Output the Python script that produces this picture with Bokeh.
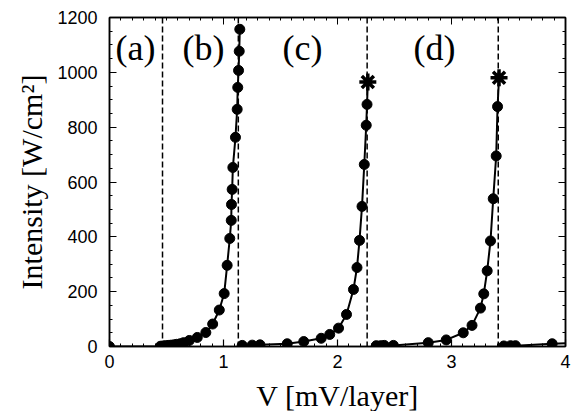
from bokeh.plotting import figure
from bokeh.models import LinearAxis, SingleIntervalTicker, Range1d, Span, Label
from bokeh.embed import file_html
from bokeh.resources import INLINE

# --- data ---
V1 = [0.0, 0.447, 0.47, 0.49, 0.515, 0.54, 0.565, 0.59, 0.62, 0.65, 0.70, 0.77, 0.845, 0.905, 0.963,
      1.006, 1.032, 1.055, 1.068, 1.070, 1.076, 1.082, 1.105, 1.12, 1.125, 1.132, 1.138, 1.143]
I1 = [0, 1, 2, 3, 4, 5, 6, 8, 10, 14, 22, 33, 51, 82, 133,
      193, 296, 394, 460, 518, 573, 653, 763, 865, 945, 1007, 1077, 1157]

V2 = [1.164, 1.252, 1.32, 1.559, 1.704, 1.857, 1.932, 2.009, 2.079, 2.14, 2.171, 2.193, 2.215, 2.235,
      2.252, 2.259, 2.266]
I2 = [4, 5, 6, 10, 18, 30, 44, 67, 117, 208, 288, 387, 511, 664, 807, 883, 965]

V3 = [2.34, 2.38, 2.41, 2.49, 2.796, 2.954, 3.103, 3.18, 3.254, 3.283, 3.313, 3.342, 3.366, 3.392,
      3.404, 3.417]
I3 = [3, 3, 4, 4, 14, 24, 50, 77, 140, 192, 276, 385, 539, 695, 875, 980]

V4 = [3.459, 3.518, 3.561, 3.883, 4.1]
I4 = [2, 3, 3, 10, 13]

V_star = [2.266, 3.417]
I_star = [965, 980]

V_div = [0.465, 1.13, 2.26, 3.41]

panel_labels = ["(a)", "(b)", "(c)", "(d)"]
panel_x = [0.053, 0.64, 1.518, 2.667]
panel_y = 1088

x_label = "V [mV/layer]"
y_label = "Intensity [W/cm²]"

# --- figure ---
p = figure(frame_width=456, frame_height=329, output_backend="svg", toolbar_location=None,
           x_range=Range1d(0, 4), y_range=Range1d(0, 1200),
           min_border_left=109, min_border_right=6, min_border_top=17, min_border_bottom=65,
           background_fill_color="white", border_fill_color="white")
p.grid.visible = False
p.outline_line_color = "black"
p.outline_line_width = 1.5

xt = SingleIntervalTicker(interval=1, num_minor_ticks=10)
yt = SingleIntervalTicker(interval=200, num_minor_ticks=4)
p.xaxis.ticker = xt
p.yaxis.ticker = yt

for ax in (p.xaxis[0], p.yaxis[0]):
    ax.axis_line_width = 1.5
    ax.major_tick_in = 7
    ax.major_tick_out = 0
    ax.minor_tick_in = 3
    ax.minor_tick_out = 0
    ax.major_tick_line_width = 1.2
    ax.minor_tick_line_width = 1
    ax.major_label_text_font = "Liberation Sans"
    ax.major_label_text_font_size = "18px"
    ax.major_label_text_color = "black"
    ax.axis_label_text_font = "Liberation Serif"
    ax.axis_label_text_font_style = "normal"
    ax.axis_label_text_font_size = "30px"
    ax.axis_label_text_color = "black"

p.xaxis.axis_label = x_label
p.yaxis.axis_label = y_label
p.xaxis.major_label_standoff = 8
p.yaxis.major_label_standoff = 12
p.xaxis.axis_label_standoff = 8
p.yaxis.axis_label_standoff = 6

for loc, tk in (("above", xt), ("right", yt)):
    ax = LinearAxis(ticker=tk)
    ax.axis_line_width = 1.5
    ax.major_tick_in = 7
    ax.major_tick_out = 0
    ax.minor_tick_in = 3
    ax.minor_tick_out = 0
    ax.major_label_text_font_size = "1px"
    ax.major_label_text_color = None
    ax.major_label_standoff = 0
    p.add_layout(ax, loc)

# dividers
for v in V_div:
    p.add_layout(Span(location=v, dimension="height", line_color="black",
                      line_width=1.5, line_dash="6 3"))

# curves
for vs, is_, star in ((V1, I1, False), (V2, I2, True), (V3, I3, True), (V4, I4, False)):
    p.line(vs, is_, line_color="black", line_width=2)
    if star:
        p.scatter(vs[:-1], is_[:-1], size=10, marker="circle", fill_color="black", line_color="black")
    else:
        p.scatter(vs, is_, size=10, marker="circle", fill_color="black", line_color="black")

p.scatter(V_star, I_star, marker="asterisk", size=17, line_color="black", line_width=3.5)

for t, x in zip(panel_labels, panel_x):
    p.add_layout(Label(x=x, y=panel_y, text=t, text_font="Liberation Serif", text_font_size="36px",
                       text_baseline="middle", text_align="left", text_color="black"))

open("out.html", "w").write(file_html(p, INLINE))
